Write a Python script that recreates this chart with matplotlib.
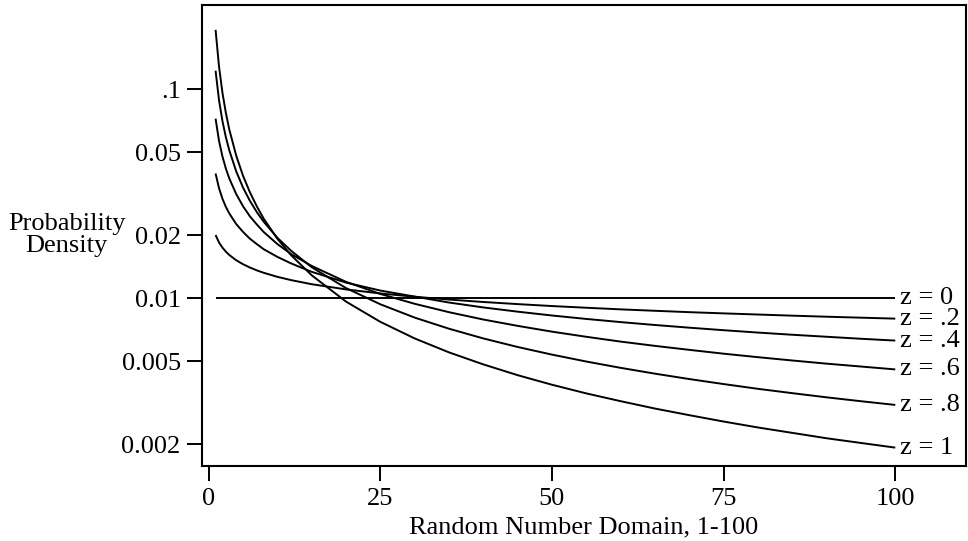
import matplotlib
matplotlib.use("Agg")
import matplotlib.pyplot as plt

# x positions (random number value) at which the curves were read
x_vals = [1, 1.5, 2, 2.5, 3, 4, 5, 6, 7, 8, 10, 12, 15, 20, 25, 30, 35, 40, 45, 50,
          55, 60, 65, 70, 75, 80, 85, 90, 95, 100]

# probability density readings for each z
dens_z0 = [0.01] * 30
dens_z02 = [0.0201, 0.01853, 0.01750, 0.01673, 0.01613, 0.01523, 0.01457, 0.01405, 0.01362, 0.01326,
            0.01268, 0.01223, 0.01169, 0.01104, 0.01056, 0.01018, 0.009871, 0.00961, 0.009387, 0.00919,
            0.009019, 0.00886, 0.008722, 0.00859, 0.008476, 0.00837, 0.008265, 0.00817, 0.008084, 0.00800]
dens_z04 = [0.0396, 0.0337, 0.0300, 0.0274, 0.0255, 0.0227, 0.0208, 0.0193, 0.0182, 0.0172,
            0.0158, 0.0147, 0.0134, 0.0119, 0.0109, 0.0102, 0.009552, 0.00905, 0.008637, 0.00828,
            0.007972, 0.00770, 0.007457, 0.00724, 0.007041, 0.00686, 0.006697, 0.00655, 0.006407, 0.00628]
dens_z06 = [0.0725, 0.0568, 0.0478, 0.0418, 0.0375, 0.0316, 0.0276, 0.0247, 0.0226, 0.0208,
            0.0182, 0.0163, 0.0143, 0.0120, 0.0105, 0.00942, 0.008588, 0.00792, 0.007386, 0.00693,
            0.006548, 0.00621, 0.005924, 0.00567, 0.005436, 0.00523, 0.005043, 0.00487, 0.004718, 0.00457]
dens_z08 = [0.123, 0.0889, 0.0706, 0.0591, 0.0511, 0.0406, 0.0339, 0.0293, 0.0259, 0.0233,
            0.0195, 0.0169, 0.0141, 0.0112, 0.00937, 0.00809, 0.007157, 0.00643, 0.005852, 0.00538,
            0.004985, 0.00465, 0.004361, 0.00411, 0.003889, 0.00369, 0.003518, 0.00336, 0.003219, 0.00309]
dens_z1 = [0.193, 0.1287, 0.0965, 0.0772, 0.0643, 0.0483, 0.0386, 0.0322, 0.0276, 0.0241,
           0.0193, 0.0161, 0.0129, 0.00965, 0.00772, 0.00643, 0.005514, 0.00483, 0.004289, 0.00386,
           0.003509, 0.00322, 0.002969, 0.00276, 0.002573, 0.00241, 0.002271, 0.00214, 0.002032, 0.00193]

series = [dens_z0, dens_z02, dens_z04, dens_z06, dens_z08, dens_z1]
series_labels = ["z = 0", "z = .2", "z = .4", "z = .6", "z = .8", "z = 1"]

x_ticks = [0, 25, 50, 75, 100]
x_tick_labels = ["0", "25", "50", "75", "100"]
y_ticks = [0.1, 0.05, 0.02, 0.01, 0.005, 0.002]
y_tick_labels = [".1", "0.05", "0.02", "0.01", "0.005", "0.002"]

plt.rcParams['font.family'] = ['Liberation Serif', 'DejaVu Serif']
FS = 19

fig = plt.figure(figsize=(9.68, 5.41), dpi=100)
ax = fig.add_axes([201.5 / 968, (541 - 465.5) / 541, (966 - 201.5) / 968, 460.5 / 541])

for ys, lab in zip(series, series_labels):
    ax.plot(x_vals, ys, color='black', lw=1.4, solid_capstyle='butt')
    ax.annotate(lab, xy=(x_vals[-1], ys[-1]), xytext=(5, 0), textcoords='offset pixels',
                ha='left', va='center', fontsize=FS)

ax.set_yscale('log')
ax.set_xlim(-1.05, 110.3)
ax.set_ylim(0.001585, 0.2537)
ax.set_xticks(x_ticks)
ax.set_xticklabels(x_tick_labels)
ax.set_yticks(y_ticks)
ax.set_yticklabels(y_tick_labels)
ax.yaxis.set_minor_locator(matplotlib.ticker.NullLocator())
ax.tick_params(axis='both', which='major', direction='out', length=10.5, width=1.4,
               labelsize=FS, pad=4.5)
ax.tick_params(axis='x', pad=5.5)
for sp in ax.spines.values():
    sp.set_linewidth(1.5)

ax.set_xlabel("Random Number Domain, 1-100", fontsize=FS, labelpad=5)
fig.text(66.5 / 968, 1 - 235 / 541, "Probability\nDensity", ha='center', va='center',
         fontsize=FS, linespacing=1.0)

fig.savefig("out.png", dpi=100)
